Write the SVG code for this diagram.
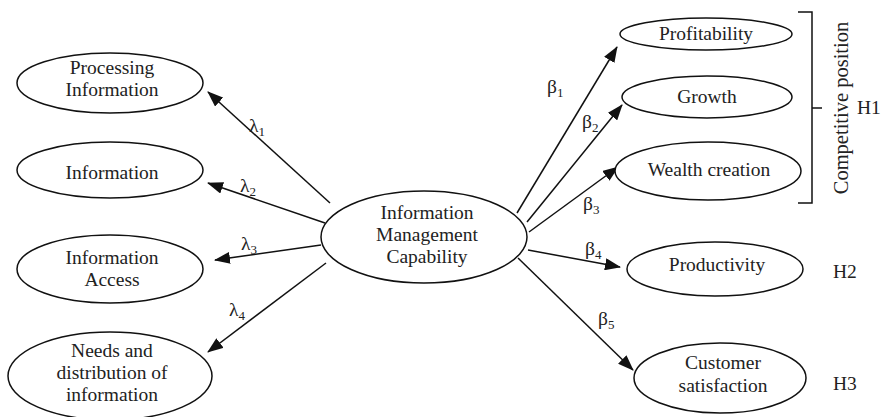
<svg xmlns="http://www.w3.org/2000/svg" width="894" height="417" viewBox="0 0 894 417">
  <style>
    .node ellipse { fill: #fff; stroke: #111; stroke-width: 1.5; }
    text { font-family: "Liberation Serif", "Times New Roman", serif; font-size: 19.5px; fill: #222; }
    .lbl { text-anchor: middle; }
    .edge { stroke: #111; stroke-width: 1.5; fill: none; marker-end: url(#arrow); }
    .sub { font-size: 13px; }
  </style>
  <defs>
    <marker id="arrow" markerUnits="userSpaceOnUse" markerWidth="16" markerHeight="12" refX="15" refY="6" orient="auto">
      <path d="M0,0 L16,6 L0,12 Z" fill="#111"/>
    </marker>
  </defs>

  <!-- connectors -->
  <g id="connectors">
    <line class="edge" x1="330" y1="203" x2="208" y2="92"/>
    <line class="edge" x1="325" y1="223" x2="208" y2="183"/>
    <line class="edge" x1="321" y1="245" x2="215" y2="260"/>
    <line class="edge" x1="326" y1="263" x2="208" y2="352"/>
    <line class="edge" x1="517" y1="213" x2="617" y2="47"/>
    <line class="edge" x1="527" y1="222" x2="622" y2="105"/>
    <line class="edge" x1="529" y1="232" x2="618" y2="167"/>
    <line class="edge" x1="528" y1="250" x2="620" y2="267"/>
    <line class="edge" x1="518" y1="258" x2="633" y2="370"/>
    <!-- bracket grouping the competitive-position outcomes -->
    <path d="M798,12 L812,12 L812,203 L798,203 M812,108 L822,108" stroke="#111" stroke-width="1.5" fill="none"/>
  </g>

  <!-- path coefficients -->
  <g id="coefficients">
    <text x="249" y="132">λ<tspan class="sub" dy="4">1</tspan></text>
    <text x="240" y="192">λ<tspan class="sub" dy="4">2</tspan></text>
    <text x="241" y="250">λ<tspan class="sub" dy="4">3</tspan></text>
    <text x="229" y="316">λ<tspan class="sub" dy="4">4</tspan></text>
    <text x="547" y="93">β<tspan class="sub" dy="4">1</tspan></text>
    <text x="582" y="128">β<tspan class="sub" dy="4">2</tspan></text>
    <text x="583" y="210">β<tspan class="sub" dy="4">3</tspan></text>
    <text x="585" y="255">β<tspan class="sub" dy="4">4</tspan></text>
    <text x="598" y="325">β<tspan class="sub" dy="4">5</tspan></text>
  </g>

  <!-- left constructs -->
  <g id="processing-information" class="node">
    <ellipse cx="110" cy="83" rx="93" ry="30"/>
    <text class="lbl" x="112" y="74">Processing</text>
    <text class="lbl" x="112" y="96">Information</text>
  </g>
  <g id="information" class="node">
    <ellipse cx="110" cy="170" rx="93" ry="28"/>
    <text class="lbl" x="112" y="179">Information</text>
  </g>
  <g id="information-access" class="node">
    <ellipse cx="110" cy="269" rx="93" ry="34"/>
    <text class="lbl" x="112" y="264">Information</text>
    <text class="lbl" x="112" y="286">Access</text>
  </g>
  <g id="needs-distribution" class="node">
    <ellipse cx="110" cy="376" rx="102" ry="44"/>
    <text class="lbl" x="112" y="357">Needs and</text>
    <text class="lbl" x="112" y="379">distribution of</text>
    <text class="lbl" x="112" y="401">information</text>
  </g>

  <!-- central construct -->
  <g id="im-capability" class="node">
    <ellipse cx="424" cy="237" rx="103" ry="46"/>
    <text class="lbl" x="427" y="219">Information</text>
    <text class="lbl" x="427" y="241">Management</text>
    <text class="lbl" x="427" y="263">Capability</text>
  </g>

  <!-- right constructs -->
  <g id="profitability" class="node">
    <ellipse cx="706" cy="34" rx="86" ry="16"/>
    <text class="lbl" x="706" y="40">Profitability</text>
  </g>
  <g id="growth" class="node">
    <ellipse cx="707" cy="97" rx="85" ry="21"/>
    <text class="lbl" x="707" y="103">Growth</text>
  </g>
  <g id="wealth-creation" class="node">
    <ellipse cx="708" cy="171" rx="93" ry="29"/>
    <text class="lbl" x="709" y="176">Wealth creation</text>
  </g>
  <g id="productivity" class="node">
    <ellipse cx="715" cy="269" rx="88" ry="27"/>
    <text class="lbl" x="717" y="271">Productivity</text>
  </g>
  <g id="customer-satisfaction" class="node">
    <ellipse cx="720" cy="378" rx="86" ry="35"/>
    <text class="lbl" x="723" y="369">Customer</text>
    <text class="lbl" x="723" y="392">satisfaction</text>
  </g>

  <!-- hypothesis annotations -->
  <g id="annotations">
    <text class="lbl" x="848" y="108" transform="rotate(-90 848 108)" style="font-size:20.5px">Competitive position</text>
    <text x="857" y="114">H1</text>
    <text x="833" y="278">H2</text>
    <text x="833" y="390">H3</text>
  </g>
</svg>
